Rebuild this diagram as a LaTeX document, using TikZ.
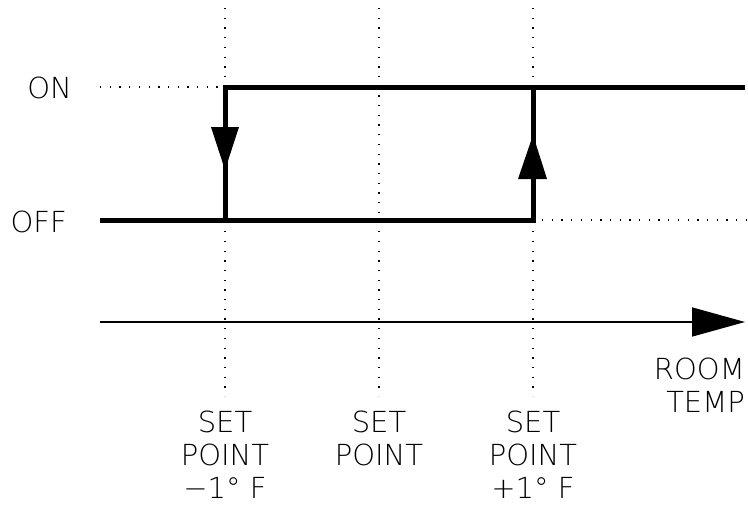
\documentclass[tikz,border=0pt]{standalone}
\usepackage{fontspec}
\newfontfamily\cadfont{DejaVuSans-ExtraLight.ttf}
\usetikzlibrary{arrows.meta}
\tikzset{
  relay/.style={line width=5pt, line join=miter},
  guide/.style={line width=1.3pt, dash pattern=on 1.3pt off 8.4pt},
  axisline/.style={line width=1.6pt, -{Triangle[length=53pt,width=29pt]}},
  tipfill/.style={fill=black},
  lbl/.style={inner sep=0pt, font=\cadfont\fontsize{29}{33}\selectfont},
}
\begin{document}
\begin{tikzpicture}[x=1pt,y=-1pt]
\useasboundingbox (0,0) rectangle (748,506);
% coordinates
\coordinate (onL) at (100,87);
\coordinate (c1t) at (225,87);
\coordinate (c1b) at (225,220);
\coordinate (offL) at (100,220);
\coordinate (c2b) at (533,220);
\coordinate (c2t) at (533,87);
\coordinate (onR) at (745,87);
\coordinate (offR) at (748,220);
\coordinate (v1t) at (225,8);
\coordinate (v1b) at (225,396);
\coordinate (v2t) at (379,8);
\coordinate (v2b) at (379,396);
\coordinate (v3t) at (533,8);
\coordinate (v3b) at (533,396);
\coordinate (ax0) at (100,322);
\coordinate (ax1) at (745,322);
% guides
\draw[guide] (v1t) -- (v1b);
\draw[guide] (v2t) -- (v2b);
\draw[guide] (v3t) -- (v3b);
\draw[guide] (onL) -- (c1t);
\draw[guide] ([xshift=9pt]c2b) -- (offR);
% relay characteristic
\draw[relay] (c1b) -- (c1t) -- (onR);
\draw[relay] (offL) -- (c2b) -- (c2t);
% arrowheads on the verticals
\fill[tipfill] (211,127) -- (239,127) -- (225,170) -- cycle;
\fill[tipfill] (518,179) -- (547,179) -- (533,135) -- cycle;
% axis
\draw[axisline] (ax0) -- (ax1);
% labels (multi-line nodes: base anchor = baseline of the last line)
\node[lbl, anchor=base east] (on) at (72,98) {ON};
\node[lbl, anchor=base east] (off) at (67,232) {OFF};
\node[lbl, align=center, anchor=base] (sp1) at (225,498) {SET\\POINT\\−1° F};
\node[lbl, align=center, anchor=base] (sp2) at (379,465) {SET\\POINT};
\node[lbl, align=center, anchor=base] (sp3) at (533,498) {SET\\POINT\\+1° F};
\node[lbl, align=right, anchor=base east] (room) at (745,412) {ROOM\\TEMP};
\end{tikzpicture}
\end{document}
